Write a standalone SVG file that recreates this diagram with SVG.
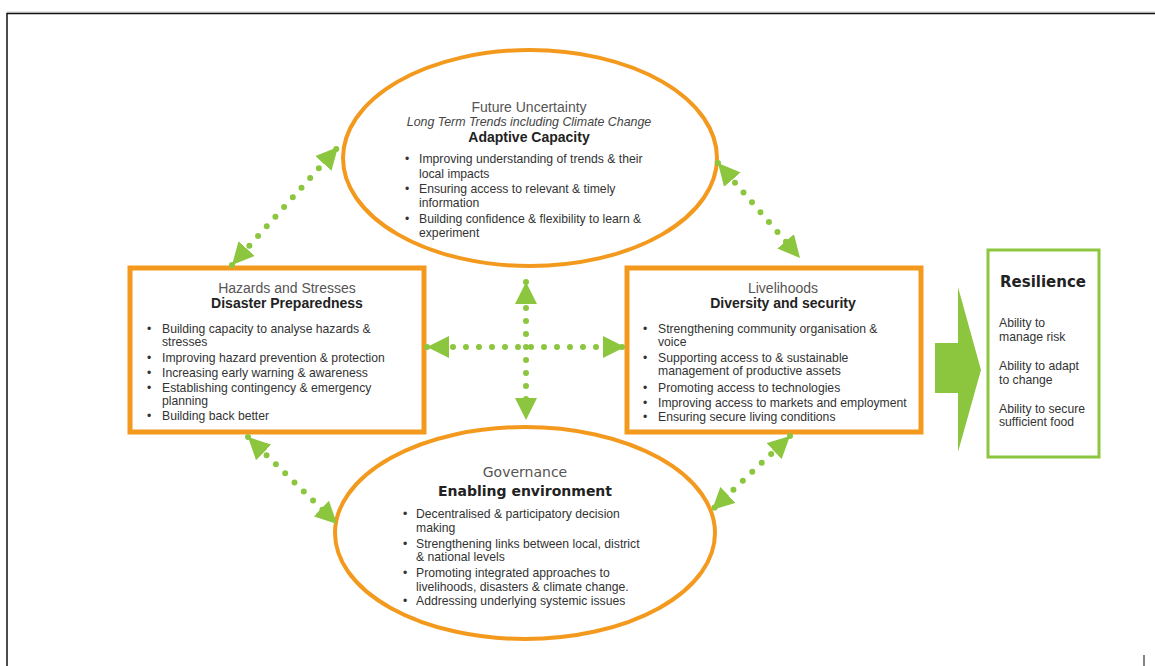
<svg xmlns="http://www.w3.org/2000/svg" width="1155" height="666" viewBox="0 0 1155 666">
<defs>
<style>
.orng{fill:#fff;stroke:#f39a1e;stroke-width:4}
.box{fill:#fff;stroke:#f39a1e;stroke-width:5}
.dot{stroke:#8cc63f;stroke-width:6;stroke-linecap:round;stroke-dasharray:0 13;fill:none}
.t{font-family:"Liberation Sans",Arial,sans-serif;font-size:12.2px;fill:#333}
.h{font-family:"Liberation Sans",Arial,sans-serif;font-size:14px;fill:#555;text-anchor:middle}
.hi{font-family:"Liberation Sans",Arial,sans-serif;font-size:12.4px;font-style:italic;fill:#444;text-anchor:middle}
.hb{font-family:"Liberation Sans",Arial,sans-serif;font-size:14px;font-weight:bold;fill:#222;text-anchor:middle}
.vh{font-family:"DejaVu Sans",Verdana,sans-serif;font-size:14px;fill:#555;text-anchor:middle}
.vb{font-family:"DejaVu Sans",Verdana,sans-serif;font-size:14px;font-weight:bold;fill:#222;text-anchor:middle}
</style>
<marker id="ah" viewBox="0 0 20 20" refX="20" refY="10" markerWidth="22" markerHeight="22" markerUnits="userSpaceOnUse" orient="auto-start-reverse">
<path d="M0,0 L20,10 L0,20 z" fill="#8cc63f"/>
</marker>
</defs>
<rect width="1155" height="666" fill="#fff"/>
<line x1="7" y1="12" x2="1155" y2="12" stroke="#ccc" stroke-width="1"/>
<path d="M7,666 V13.5 H1155" fill="none" stroke="#111" stroke-width="1.5"/>
<line x1="1144" y1="655" x2="1144" y2="666" stroke="#333" stroke-width="1.2"/>

<g id="adaptive">
<ellipse class="orng" cx="530" cy="158" rx="187" ry="108"/>
<text class="h" x="529" y="112">Future Uncertainty</text>
<text class="hi" x="529" y="126">Long Term Trends including Climate Change</text>
<text class="hb" x="529" y="142">Adaptive Capacity</text>
<g class="t">
<text x="405" y="163">•</text><text x="419" y="163">Improving understanding of trends &amp; their</text>
<text x="419" y="178">local impacts</text>
<text x="405" y="193">•</text><text x="419" y="193">Ensuring access to relevant &amp; timely</text>
<text x="419" y="207">information</text>
<text x="405" y="223">•</text><text x="419" y="223">Building confidence &amp; flexibility to learn &amp;</text>
<text x="419" y="237">experiment</text>
</g>
</g>

<g id="hazards">
<rect class="box" x="130" y="268" width="294" height="164"/>
<text class="h" x="287" y="293">Hazards and Stresses</text>
<text class="hb" x="287" y="308">Disaster Preparedness</text>
<g class="t">
<text x="147" y="333">•</text><text x="162" y="333">Building capacity to analyse hazards &amp;</text>
<text x="162" y="346">stresses</text>
<text x="147" y="362">•</text><text x="162" y="362">Improving hazard prevention &amp; protection</text>
<text x="147" y="377">•</text><text x="162" y="377">Increasing early warning &amp; awareness</text>
<text x="147" y="392">•</text><text x="162" y="392">Establishing contingency &amp; emergency</text>
<text x="162" y="405">planning</text>
<text x="147" y="420">•</text><text x="162" y="420">Building back better</text>
</g>
</g>

<g id="livelihoods">
<rect class="box" x="627" y="268" width="294" height="164"/>
<text class="h" x="783" y="293">Livelihoods</text>
<text class="hb" x="783" y="308">Diversity and security</text>
<g class="t">
<text x="643" y="333">•</text><text x="658" y="333">Strengthening community organisation &amp;</text>
<text x="658" y="346">voice</text>
<text x="643" y="362">•</text><text x="658" y="362">Supporting access to &amp; sustainable</text>
<text x="658" y="375">management of productive assets</text>
<text x="643" y="392">•</text><text x="658" y="392">Promoting access to technologies</text>
<text x="643" y="407">•</text><text x="658" y="407">Improving access to markets and employment</text>
<text x="643" y="421">•</text><text x="658" y="421">Ensuring secure living conditions</text>
</g>
</g>

<g id="governance">
<ellipse class="orng" cx="525" cy="533" rx="190" ry="106"/>
<text class="vh" x="525" y="477">Governance</text>
<text class="vb" x="525" y="496">Enabling environment</text>
<g class="t">
<text x="403" y="518">•</text><text x="416" y="518">Decentralised &amp; participatory decision</text>
<text x="416" y="532">making</text>
<text x="403" y="548">•</text><text x="416" y="548">Strengthening links between local, district</text>
<text x="416" y="561">&amp; national levels</text>
<text x="403" y="577">•</text><text x="416" y="577">Promoting integrated approaches to</text>
<text x="416" y="591">livelihoods, disasters &amp; climate change.</text>
<text x="403" y="605">•</text><text x="416" y="605">Addressing underlying systemic issues</text>
</g>
</g>

<g id="big-arrow">
<path d="M935,343 H958 V287 L981,370 L958,452 V393 H935 z" fill="#8cc63f"/>
</g>

<g id="resilience">
<rect x="988" y="250" width="111" height="207" fill="#fff" stroke="#8cc63f" stroke-width="3"/>
<text class="vb" x="1043" y="287" style="font-size:15px">Resilience</text>
<g class="t">
<text x="999" y="327">Ability to</text>
<text x="999" y="341">manage risk</text>
<text x="999" y="370">Ability to adapt</text>
<text x="999" y="384">to change</text>
<text x="999" y="413">Ability to secure</text>
<text x="999" y="426">sufficient food</text>
</g>
</g>

<g id="connectors">
<line class="dot" x1="232" y1="265" x2="338" y2="147" marker-start="url(#ah)" marker-end="url(#ah)"/>
<line class="dot" x1="718" y1="163" x2="800" y2="258" marker-start="url(#ah)" marker-end="url(#ah)"/>
<line class="dot" x1="427" y1="347" x2="625" y2="347" marker-start="url(#ah)" marker-end="url(#ah)"/>
<line class="dot" x1="526" y1="282" x2="526" y2="420" marker-start="url(#ah)" marker-end="url(#ah)"/>
<line class="dot" x1="248" y1="437" x2="337" y2="524" marker-start="url(#ah)" marker-end="url(#ah)"/>
<line class="dot" x1="790" y1="436" x2="712" y2="510" marker-start="url(#ah)" marker-end="url(#ah)"/>
</g>
</svg>
